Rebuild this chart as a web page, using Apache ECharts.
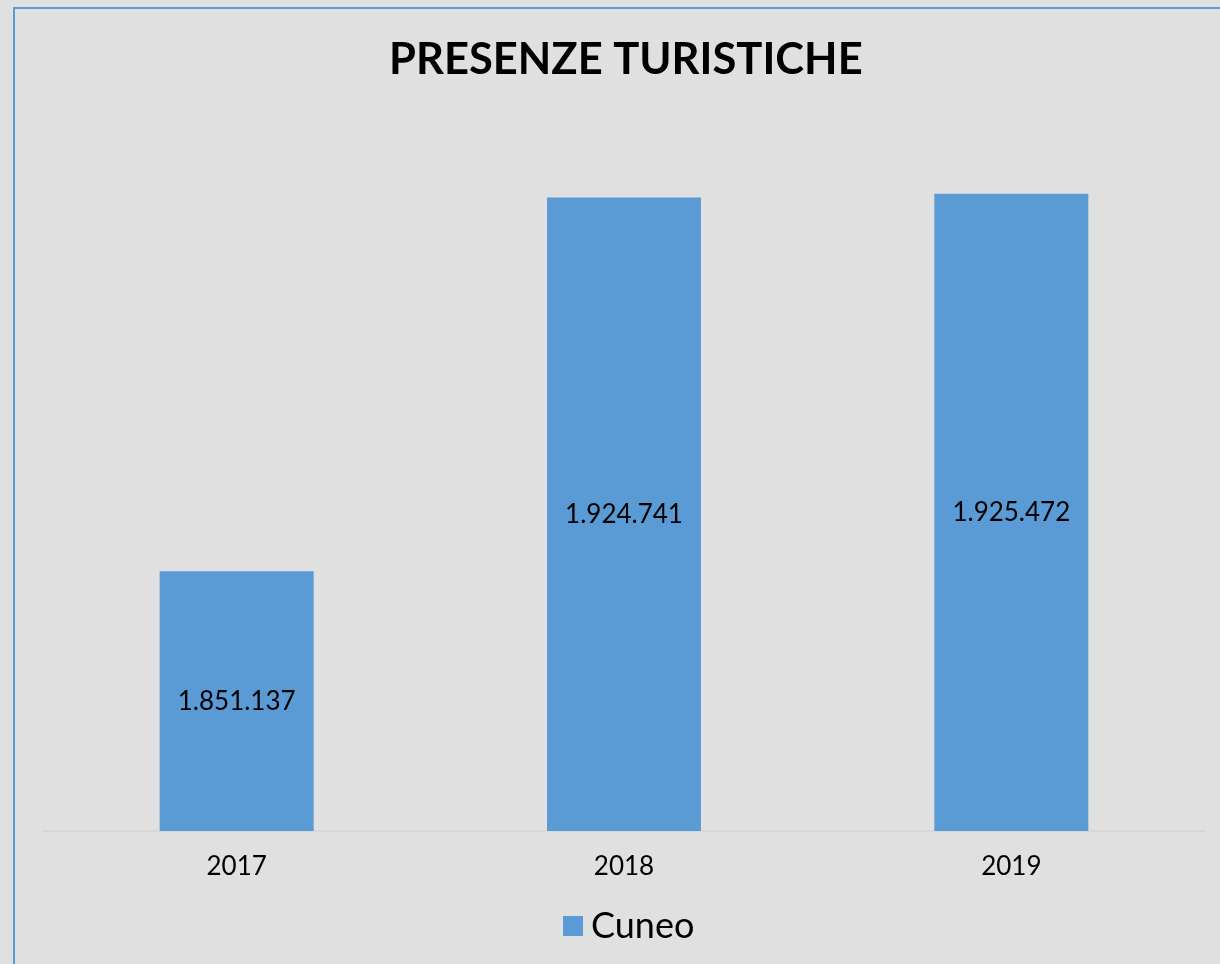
<!DOCTYPE html>
<html>
<head>
<meta charset="utf-8">
<script src="https://cdn.jsdelivr.net/npm/echarts@6/dist/echarts.min.js"></script>
<style>
html,body{margin:0;padding:0;background:#e0e0e0;}
#frame{position:absolute;left:13px;top:7px;width:1300px;height:1100px;border:2px solid #5b9bd5;box-sizing:border-box;}
#chart{position:absolute;left:0;top:0;width:1220px;height:964px;}
</style>
</head>
<body>
<div id="frame"></div>
<div id="chart"></div>
<script>
const categories = ['2017', '2018', '2019'];
const cuneo = [1851137, 1924741, 1925472];
const seriesName = 'Cuneo';
const titleText = 'PRESENZE TURISTICHE';

function fmt(v){ return String(v).replace(/\B(?=(\d{3})+(?!\d))/g, '.'); }

const chart = echarts.init(document.getElementById('chart'), null, {renderer:'canvas'});
chart.setOption({
  backgroundColor: 'transparent',
  animation: false,
  title: {
    text: titleText, left: 384, top: 33,
    textStyle: {fontFamily: 'Lato', fontWeight: 'bold', fontSize: 43.5, color: '#000'}
  },
  legend: {
    bottom: 15, left: 558, itemWidth: 20, itemHeight: 20, icon: 'rect',
    textStyle: {fontFamily: 'Lato', fontSize: 36, color: '#000', padding: [0, 0, 0, 3]},
    data: [seriesName]
  },
  grid: {left: 43, right: 15, top: 120, bottom: 133, containLabel: false},
  xAxis: {
    type: 'category', data: categories,
    axisLine: {lineStyle: {color: '#d4d4d4', width: 1.5}},
    axisTick: {show: false},
    axisLabel: {fontFamily: 'Lato', fontSize: 26, color: '#000', margin: 23}
  },
  yAxis: {
    type: 'value', min: 1800000, max: 1940000, show: false,
    splitLine: {show: false}
  },
  series: [{
    name: seriesName, type: 'bar', data: cuneo, barWidth: 154,
    itemStyle: {color: '#5b9bd5'},
    label: {show: true, position: 'inside', fontFamily: 'Lato', fontSize: 26, color: '#000',
      formatter: p => fmt(p.value)}
  }]
});
</script>
</body>
</html>
